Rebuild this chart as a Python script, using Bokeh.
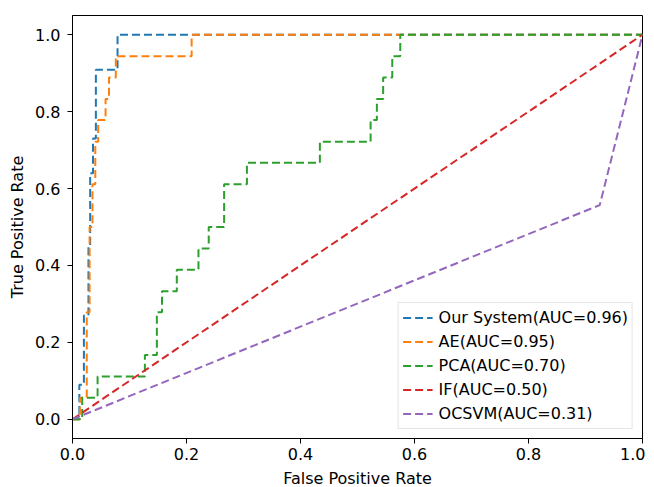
from bokeh.plotting import figure
from bokeh.models import Range1d, FixedTicker, Legend, LegendItem, PrintfTickFormatter
from bokeh.embed import file_html
from bokeh.resources import INLINE

# ---- data ----
ours_fpr = [0, 0.012, 0.012, 0.02, 0.02, 0.028, 0.028, 0.031, 0.031, 0.036, 0.036, 0.041, 0.041, 0.079, 0.079, 1.0]
ours_tpr = [0, 0, 0.09, 0.09, 0.27, 0.27, 0.45, 0.45, 0.64, 0.64, 0.73, 0.73, 0.909, 0.909, 1.0, 1.0]

ae_fpr = [0, 0.013, 0.013, 0.025, 0.025, 0.03, 0.03, 0.035, 0.035, 0.04, 0.04, 0.045, 0.045, 0.058, 0.058,
          0.064, 0.064, 0.076, 0.076, 0.209, 0.209, 1.0]
ae_tpr = [0, 0, 0.056, 0.056, 0.278, 0.278, 0.5, 0.5, 0.611, 0.611, 0.722, 0.722, 0.778, 0.778, 0.833,
          0.833, 0.889, 0.889, 0.944, 0.944, 1.0, 1.0]

pca_fpr = [0, 0.017, 0.017, 0.044, 0.044, 0.127, 0.127, 0.148, 0.148, 0.157, 0.157, 0.183, 0.183, 0.221,
           0.221, 0.239, 0.239, 0.266, 0.266, 0.306, 0.306, 0.434, 0.434, 0.523, 0.523, 0.534, 0.534,
           0.545, 0.545, 0.561, 0.561, 0.575, 0.575, 1.0]
pca_tpr = [0, 0, 0.056, 0.056, 0.111, 0.111, 0.167, 0.167, 0.278, 0.278, 0.333, 0.333, 0.389, 0.389,
           0.444, 0.444, 0.5, 0.5, 0.611, 0.611, 0.667, 0.667, 0.722, 0.722, 0.778, 0.778, 0.833,
           0.833, 0.889, 0.889, 0.944, 0.944, 1.0, 1.0]

if_fpr = [0, 1.0]
if_tpr = [0, 1.0]

ocsvm_fpr = [0, 0.925, 1.0]
ocsvm_tpr = [0, 0.557, 1.0]

labels = ["Our System(AUC=0.96)", "AE(AUC=0.95)", "PCA(AUC=0.70)", "IF(AUC=0.50)", "OCSVM(AUC=0.31)"]
colors = ["#1f77b4", "#ff7f0e", "#2ca02c", "#d62728", "#9467bd"]
ticks = [0.0, 0.2, 0.4, 0.6, 0.8, 1.0]

FONT = "DejaVu Sans"

p = figure(width=646, height=484, output_backend="svg", toolbar_location=None,
           x_range=Range1d(0, 1), y_range=Range1d(-0.05, 1.05),
           frame_width=570, frame_height=423,
           min_border_left=72, min_border_right=3, min_border_top=15, min_border_bottom=40)

p.xgrid.visible = False
p.ygrid.visible = False
p.outline_line_color = "black"
p.outline_line_width = 1
p.background_fill_color = "white"
p.border_fill_color = "white"

for ax in (p.xaxis[0], p.yaxis[0]):
    ax.ticker = FixedTicker(ticks=ticks)
    ax.formatter = PrintfTickFormatter(format="%.1f")
    ax.major_tick_out = 5
    ax.major_tick_in = 0
    ax.minor_tick_out = 0
    ax.minor_tick_in = 0
    ax.axis_line_color = "black"
    ax.major_tick_line_color = "black"
    ax.major_label_text_font = FONT
    ax.major_label_text_font_size = "16px"
    ax.major_label_text_color = "black"
    ax.axis_label_text_font = FONT
    ax.axis_label_text_font_size = "16px"
    ax.axis_label_text_font_style = "normal"
    ax.axis_label_text_color = "black"

p.xaxis[0].major_label_standoff = 4
p.xaxis[0].axis_label_standoff = 6
p.yaxis[0].major_label_standoff = 7
p.yaxis[0].axis_label_standoff = 5

p.xaxis.axis_label = "False Positive Rate"
p.yaxis.axis_label = "True Positive Rate"

series = [(ours_fpr, ours_tpr), (ae_fpr, ae_tpr), (pca_fpr, pca_tpr), (if_fpr, if_tpr), (ocsvm_fpr, ocsvm_tpr)]
items = []
for (xs, ys), lab, col in zip(series, labels, colors):
    r = p.line(xs, ys, line_color=col, line_width=2, line_dash="8 4")
    items.append(LegendItem(label=lab, renderers=[r]))

legend = Legend(items=items, location="bottom_right")
legend.label_text_font = FONT
legend.label_text_font_size = "16px"
legend.label_text_color = "black"
legend.border_line_color = "#cccccc"
legend.border_line_width = 1
legend.background_fill_alpha = 0.8
legend.glyph_width = 30
legend.glyph_height = 21
legend.label_height = 21
legend.spacing = 3
legend.padding = 4
legend.margin = 9
legend.label_standoff = 6
p.add_layout(legend)

open("out.html", "w").write(file_html(p, INLINE))
